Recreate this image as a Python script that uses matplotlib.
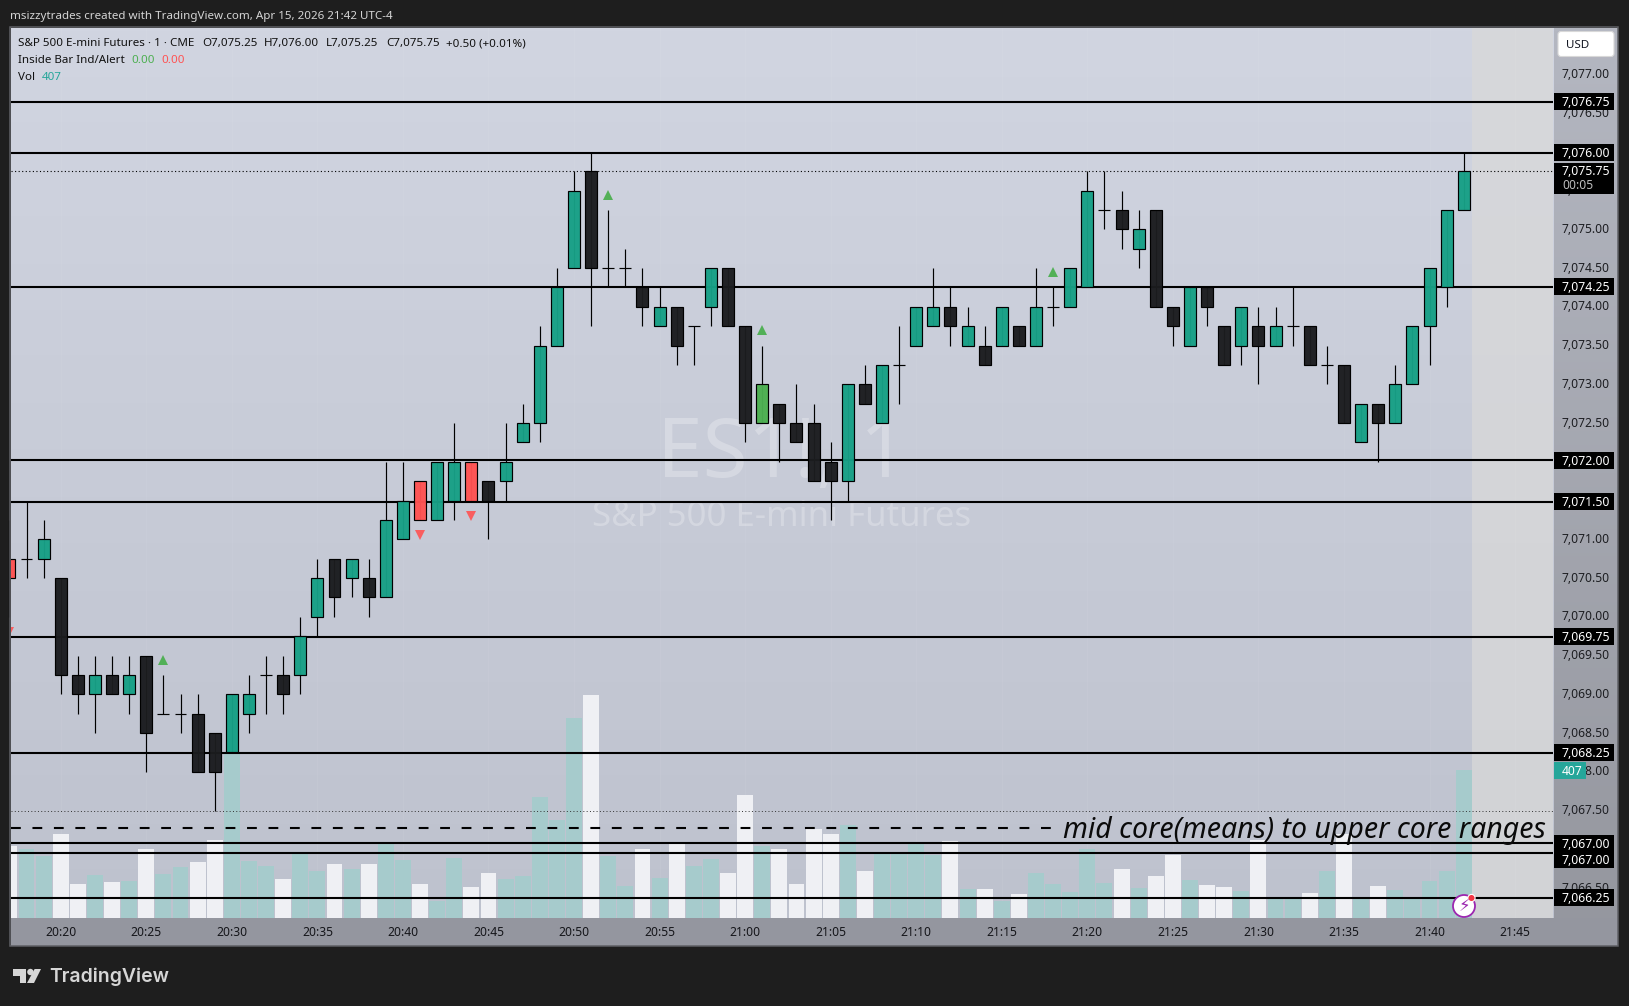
import matplotlib
matplotlib.use('Agg')
import matplotlib.pyplot as plt
from matplotlib.patches import Rectangle, Polygon, FancyBboxPatch, Circle, Ellipse
from matplotlib.transforms import blended_transform_factory, ScaledTranslation
import numpy as np

W, H = 1629, 1006

opens = [7070.75, 7070.75, 7070.75, 7070.5, 7069.25, 7069.0, 7069.25, 7069.0, 7069.5, 7068.75,
         7068.75, 7068.75, 7068.5, 7068.25, 7068.75, 7069.25, 7069.25, 7069.25, 7070.0, 7070.75,
         7070.5, 7070.5, 7070.25, 7071.0, 7071.75, 7071.25, 7071.5, 7072.0, 7071.75, 7071.75,
         7072.25, 7072.5, 7073.5, 7074.5, 7075.75, 7074.5, 7074.5, 7074.25, 7073.75, 7074.0,
         7073.75, 7074.0, 7074.5, 7073.75, 7072.5, 7072.75, 7072.5, 7072.5, 7072.0, 7071.75,
         7073.0, 7072.5, 7073.25, 7073.5, 7073.75, 7074.0, 7073.5, 7073.5, 7073.5, 7073.75,
         7073.5, 7074.0, 7074.0, 7074.25, 7075.25, 7075.25, 7074.75, 7075.25, 7074.0, 7073.5,
         7074.25, 7073.75, 7073.5, 7073.75, 7073.5, 7073.75, 7073.75, 7073.25, 7073.25, 7072.25,
         7072.75, 7072.5, 7073.0, 7073.75, 7074.25, 7075.25]
highs = [7071.25, 7071.5, 7071.25, 7070.5, 7069.5, 7069.5, 7069.5, 7069.5, 7069.5, 7069.25,
         7069.0, 7069.0, 7068.5, 7069.0, 7069.25, 7069.5, 7069.5, 7070.0, 7070.75, 7070.75,
         7070.75, 7070.75, 7072.0, 7072.0, 7071.75, 7072.0, 7072.5, 7072.0, 7071.75, 7072.5,
         7072.75, 7073.75, 7074.5, 7075.75, 7076.0, 7075.25, 7074.75, 7074.5, 7074.25, 7074.0,
         7073.75, 7074.5, 7074.5, 7073.75, 7073.5, 7072.75, 7073.0, 7072.75, 7072.25, 7073.0,
         7073.25, 7073.25, 7073.75, 7074.0, 7074.5, 7074.25, 7074.0, 7073.75, 7074.0, 7073.75,
         7074.5, 7074.25, 7074.5, 7075.75, 7075.75, 7075.5, 7075.25, 7075.25, 7074.0, 7074.25,
         7074.25, 7073.75, 7074.0, 7074.0, 7074.0, 7074.25, 7073.75, 7073.5, 7073.25, 7072.75,
         7072.75, 7073.25, 7073.75, 7074.5, 7075.25, 7076.0]
lows = [7070.0, 7070.5, 7070.5, 7069.0, 7068.75, 7068.5, 7069.0, 7068.75, 7068.0, 7068.75,
        7068.5, 7068.0, 7067.5, 7068.25, 7068.5, 7068.75, 7068.75, 7069.0, 7069.75, 7070.0,
        7070.25, 7070.0, 7070.25, 7071.0, 7071.25, 7071.25, 7071.25, 7071.5, 7071.0, 7071.5,
        7072.25, 7072.25, 7073.5, 7074.5, 7073.75, 7074.25, 7074.25, 7073.75, 7073.75, 7073.25,
        7073.25, 7073.75, 7073.75, 7072.25, 7072.5, 7072.0, 7072.25, 7071.75, 7071.25, 7071.5,
        7072.75, 7072.5, 7072.75, 7073.5, 7073.75, 7073.5, 7073.5, 7073.25, 7073.5, 7073.5,
        7073.5, 7073.75, 7074.0, 7074.25, 7075.0, 7074.75, 7074.5, 7074.0, 7073.5, 7073.5,
        7073.75, 7073.25, 7073.25, 7073.0, 7073.5, 7073.5, 7073.25, 7073.0, 7072.5, 7072.25,
        7072.0, 7072.5, 7073.0, 7073.25, 7074.0, 7075.25]
closes = [7070.5, 7070.75, 7071.0, 7069.25, 7069.0, 7069.25, 7069.0, 7069.25, 7068.5, 7068.75,
          7068.75, 7068.0, 7068.0, 7069.0, 7069.0, 7069.25, 7069.0, 7069.75, 7070.5, 7070.25,
          7070.75, 7070.25, 7071.25, 7071.5, 7071.25, 7072.0, 7072.0, 7071.5, 7071.5, 7072.0,
          7072.5, 7073.5, 7074.25, 7075.5, 7074.5, 7074.5, 7074.5, 7074.0, 7074.0, 7073.5,
          7073.75, 7074.5, 7073.75, 7072.5, 7073.0, 7072.5, 7072.25, 7071.75, 7071.75, 7073.0,
          7072.75, 7073.25, 7073.25, 7074.0, 7074.0, 7073.75, 7073.75, 7073.25, 7074.0, 7073.5,
          7074.0, 7074.0, 7074.5, 7075.5, 7075.25, 7075.0, 7075.0, 7074.0, 7073.75, 7074.25,
          7074.0, 7073.25, 7074.0, 7073.5, 7073.75, 7073.75, 7073.25, 7073.25, 7072.5, 7072.75,
          7072.5, 7073.0, 7073.75, 7074.5, 7075.25, 7075.75]
volumes = [198, 189, 170, 231, 93, 117, 99, 102, 190, 121,
           140, 154, 214, 453, 157, 143, 107, 176, 129, 148,
           135, 148, 209, 160, 93, 47, 165, 85, 124, 107,
           115, 333, 270, 551, 613, 170, 88, 190, 110, 206,
           143, 162, 124, 338, 198, 190, 93, 245, 231, 256,
           129, 181, 180, 205, 173, 212, 80, 80, 47, 66,
           124, 93, 71, 190, 96, 135, 82, 115, 173, 104,
           91, 85, 74, 214, 52, 52, 69, 128, 231, 52,
           88, 77, 52, 102, 128, 407]
red_bars = [0, 24, 27]
green_bars = [44]
up_signals = [9, 35, 44, 61]
up_signal_prices = [7069.44, 7075.44, 7073.70, 7074.45]
down_signals = [0, 24, 27]
down_signal_prices = [7069.80, 7071.06, 7071.30]

level_prices = [7076.646, 7075.985, 7074.26, 7072.02, 7071.485, 7069.743, 7068.247, 7067.08, 7066.95, 7066.375]
level_labels = ['7,076.75', '7,076.00', '7,074.25', '7,072.00', '7,071.50', '7,069.75', '7,068.25',
                '7,067.00', '7,067.00', '7,066.25']
dashed_level = 7067.28
dotted_level = 7067.50
last_price = 7075.75

time_ticks = [3, 8, 13, 18, 23, 28, 33, 38, 43, 48, 53, 58, 63, 68, 73, 78, 83, 88]
time_labels = ['20:20', '20:25', '20:30', '20:35', '20:40', '20:45', '20:50', '20:55', '21:00',
               '21:05', '21:10', '21:15', '21:20', '21:25', '21:30', '21:35', '21:40', '21:45']
price_ticks = np.arange(7066.5, 7077.5, 0.5)

TEAL = '#17A086'
BLACK = '#1B1C1F'
RED = '#FF5252'
GREEN = '#4CAF50'
BG = '#1E1E1E'
plt.rcParams['font.family'] = ['Noto Sans', 'DejaVu Sans']


def fx(x):
  return x / W


def fy(y):
  return 1 - y / H


def px_axes(x0, y0, x1, y1):
  return [fx(x0), fy(y1), (x1 - x0) / W, (y1 - y0) / H]


def gradient(ax, top, bottom):
  c0 = np.array(matplotlib.colors.to_rgb(top))
  c1 = np.array(matplotlib.colors.to_rgb(bottom))
  t = np.linspace(0, 1, 256)[:, None, None]
  img = c0[None, None, :] * (1 - t) + c1[None, None, :] * t
  ax.imshow(img, aspect='auto', extent=(0, 1, 0, 1), transform=ax.transAxes, zorder=0)


def ptext(x, y, s, **kw):
  # y is the text baseline, in pixels from the top
  kw.setdefault('color', '#111111')
  kw.setdefault('fontsize', 8.35)
  kw.setdefault('va', 'baseline')
  return fig.text(fx(x), fy(y), s, **kw)


fig = plt.figure(figsize=(W / 100, H / 100), dpi=100, facecolor=BG)

L, R, T, B = 10.7, 1553, 28, 918
RIGHT = 1617.5
STRIP = 946

# price strip and time strip
ax_strip = fig.add_axes(px_axes(R, T, RIGHT, B), zorder=0)
gradient(ax_strip, '#B4B7C1', '#95979F')
ax_strip.axis('off')
fig.add_artist(Rectangle((fx(L), fy(STRIP)), (RIGHT - L) / W, (STRIP - B) / H, transform=fig.transFigure,
                         facecolor='#94969F', edgecolor='none', zorder=-1))
fig.add_artist(Rectangle((fx(L - 1), fy(STRIP)), (RIGHT - L + 1) / W, (STRIP - T + 1) / H, transform=fig.transFigure,
                         facecolor='none', edgecolor='#5F6065', linewidth=1.1, zorder=5))

bar_px = 17.11
k = 77.5  # pixels per point of price
x_left = (L - 9.4) / bar_px
x_right = (R - 9.4) / bar_px
price_low = 7077 - (B - 74.3) / k
price_high = 7077 + (74.3 - T) / k
idx = np.arange(len(closes))
opens, highs, lows, closes = map(np.array, (opens, highs, lows, closes))
volumes = np.array(volumes)

# volume pane, drawn under the candles
ax_vol = fig.add_axes(px_axes(L, T, R, B), zorder=1)
gradient(ax_vol, '#D1D5E1', '#BEC2CE')
ax_vol.axvspan(85.5, x_right, color='#D9D9D9', alpha=0.75, lw=0, zorder=0.5)
for t in time_ticks:
  ax_vol.axvline(t, color='white', alpha=0.05, lw=0.8, zorder=0.6)
vol_colors = ['#A6CBCC' if c >= o else '#EFF0F4' for o, c in zip(opens, closes)]
ax_vol.bar(idx, volumes, width=0.93, color=vol_colors, lw=0, zorder=1)
ax_vol.set_xlim(x_left, x_right)
ax_vol.set_ylim(0, (B - T) / 0.3636)
ax_vol.set_yticks([])
ax_vol.set_xticks(time_ticks)
ax_vol.set_xticklabels(time_labels, fontsize=8.7, color='#15161A')
ax_vol.tick_params(axis='x', length=0, pad=6)
ax_vol.get_xticklabels()[time_labels.index('21:00')].set_fontweight('bold')
for s in ax_vol.spines.values():
  s.set_visible(False)

# candles
ax = fig.add_axes(px_axes(L, T, R, B), zorder=2)
ax.patch.set_alpha(0)
ax.set_xlim(x_left, x_right)
ax.set_ylim(price_low, price_high)
for s in ax.spines.values():
  s.set_visible(False)
ax.set_xticks([])
ax.yaxis.tick_right()
ax.set_yticks(price_ticks)
ax.set_yticklabels([f'{p:,.2f}' for p in price_ticks], fontsize=8.7, color='#1D1E22')
ax.tick_params(axis='y', length=0, pad=6.3)
up_shift = ScaledTranslation(0, 0.015, fig.dpi_scale_trans)
for lab in ax.get_yticklabels():
  lab.set_transform(lab.get_transform() + up_shift)

ax.text(782, H - 456, 'ES1!, 1', transform=None, fontsize=59, color='white', alpha=0.26, ha='center', va='center', zorder=1)
ax.text(782, H - 517, 'S&P 500 E-mini Futures', transform=None, fontsize=25, color='white', alpha=0.26, ha='center', va='center', zorder=1)

for p in level_prices:
  ax.axhline(p, color='black', lw=1.5, zorder=2)
ax.plot([x_left, 61.0], [dashed_level, dashed_level], color='black', lw=1.5, dashes=(4.7, 5.6), zorder=2)
ax.axhline(dotted_level, color='#333333', lw=0.7, dashes=(1, 2.4), zorder=2)
ax.axhline(last_price, color='black', lw=0.8, dashes=(1, 2.2), zorder=2)

colors = [TEAL if c >= o else BLACK for o, c in zip(opens, closes)]
for i in red_bars:
  colors[i] = RED
for i in green_bars:
  colors[i] = GREEN
ax.vlines(idx, lows, highs, color='black', lw=0.85, zorder=3, clip_on=False)
ax.bar(idx, np.abs(closes - opens), bottom=np.minimum(opens, closes), width=0.7,
       color=matplotlib.colors.to_rgba_array(colors, 0.97), edgecolor='black', lw=0.85, zorder=4)
ax.plot(up_signals, up_signal_prices, '^', color=GREEN, ms=7.5, mew=0, alpha=0.95, zorder=5)
ax.plot(down_signals, down_signal_prices, 'v', color=RED, ms=7.5, mew=0, alpha=0.9, zorder=5)

# level boxes on the price scale
trans = blended_transform_factory(ax.transAxes, ax.transData)
x0_box = (1554 - L) / (R - L)
w_box = 60 / (R - L)
x_txt = x0_box + 8 / (R - L)
box_font = dict(transform=trans, color='white', fontsize=8.8, fontweight='bold', va='center', clip_on=False, zorder=7)
for i, (p, s) in enumerate(zip(level_prices, level_labels)):
  y = p
  if i == 8:
    y = p - 6.7 / k
  ax.add_patch(Rectangle((x0_box, y - 8.5 / k), w_box, 17 / k, transform=trans, facecolor='black',
                         edgecolor='none', clip_on=False, zorder=6))
  ax.text(x_txt, y - 1 / k, s, **box_font)
ax.add_patch(Rectangle((x0_box, last_price - 23 / k), w_box, 31 / k, transform=trans, facecolor='black',
                       edgecolor='none', clip_on=False, zorder=6))
ax.text(x_txt, last_price, '7,075.75', **box_font)
ax.text(x_txt, last_price - 14.5 / k, '00:05', transform=trans, color='#BDBDBD', fontsize=8.7,
        va='center', clip_on=False, zorder=7)

# last volume tag
vol_y = 7077 - (B - volumes[-1] * 0.3636 - 74.3) / k
ax.add_patch(Rectangle((x0_box, vol_y - 8.5 / k), 32 / (R - L), 17 / k, transform=trans, facecolor='#26A69A',
                       edgecolor='none', clip_on=False, zorder=6))
ax.text(x_txt, vol_y - 1 / k, '407', transform=trans, color='white', fontsize=8.7, va='center', clip_on=False, zorder=7)

# drawing label on the dashed line
ptext(1063, 838, 'mid core(means) to upper core ranges', fontsize=20.5, style='italic', color='#0A0A0A', zorder=8)

# alert badge
ax_badge = fig.add_axes(px_axes(1450, 892, 1478, 920), zorder=3)
ax_badge.set_xlim(0, 28)
ax_badge.set_ylim(28, 0)
ax_badge.axis('off')
ax_badge.add_patch(Circle((14, 14), 11, facecolor='white', edgecolor='#9C27B0', lw=1.3))
ax_badge.text(14, 14.5, '\u26a1', color='#9C27B0', fontsize=12, ha='center', va='center', family='DejaVu Sans')
ax_badge.add_patch(Circle((21.5, 6), 3.6, facecolor='#F23645', edgecolor='white', lw=0.8))

# header and legend
ptext(10, 19, 'msizzytrades created with TradingView.com, Apr 15, 2026 21:42 UTC-4', color='#D4D4D4', zorder=8)
ptext(18, 46, 'S&P 500 E-mini Futures \u00b7 1 \u00b7 CME', zorder=8)
ptext(202, 46, 'O7,075.25', zorder=8)
ptext(264, 46, 'H7,076.00', zorder=8)
ptext(326, 46, 'L7,075.25', zorder=8)
ptext(386, 46, 'C7,075.75', zorder=8)
ptext(446, 46, '+0.50 (+0.01%)', zorder=8)
ptext(18, 63, 'Inside Bar Ind/Alert', zorder=8)
ptext(131, 63, '0.00', color=GREEN, zorder=8)
ptext(161.5, 63, '0.00', color=RED, zorder=8)
ptext(18, 80, 'Vol', zorder=8)
ptext(42, 80, '407', color='#26A69A', zorder=8)

# USD button
fig.add_artist(FancyBboxPatch((1558, H - 56.5), 56, 25, boxstyle='round,pad=0,rounding_size=3', transform=None,
                              facecolor='white', edgecolor='#D8D8D8', lw=0.8, zorder=8))
ptext(1566, 48, 'USD', color='#131722', zorder=9)

# TradingView logo
logo = [[(12.5, 969), (25.7, 969), (25.7, 983), (19.6, 983), (19.6, 975.5), (12.5, 975.5)],
        [(34.6, 969), (41, 969), (34, 983), (27, 983)]]
for pts in logo:
  fig.add_artist(Polygon([(fx(x), fy(y)) for x, y in pts], closed=True, transform=fig.transFigure, facecolor='#D6D6D6', edgecolor='none'))
fig.add_artist(Ellipse((fx(30.4), fy(972)), 6.4 / W, 6.4 / H, transform=fig.transFigure, facecolor='#D6D6D6', edgecolor='none'))
ptext(49, 982, 'TradingView', color='#D6D6D6', fontsize=14, fontweight='semibold', family='Inter')

fig.savefig('out.png', dpi=100, facecolor=BG)
